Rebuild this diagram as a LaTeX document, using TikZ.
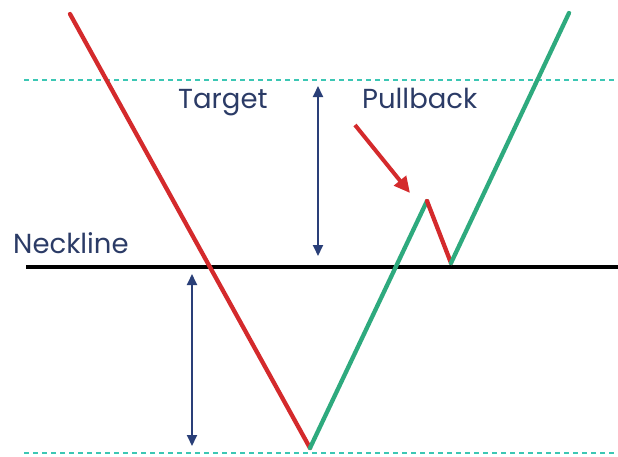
\documentclass[tikz,border=0pt]{standalone}
\usepackage{fontspec}
\setmainfont{Poppins}
\usetikzlibrary{arrows.meta}
\definecolor{redline}{HTML}{D42A2C}
\definecolor{greenline}{HTML}{2EAA7E}
\definecolor{tealdash}{HTML}{3CC7B4}
\definecolor{navy}{HTML}{2A3F78}
\definecolor{labeltext}{HTML}{2B3B66}
\tikzset{
  guide/.style={tealdash, line width=2pt, dash pattern=on 5pt off 4pt},
  neck/.style={black, line width=4.5pt},
  fall/.style={redline, line width=4.3pt, line cap=round, line join=round},
  rise/.style={greenline, line width=4.3pt, line cap=round, line join=round},
  measure/.style={navy, line width=1.8pt, {Triangle[length=11pt,width=10pt]}-{Triangle[length=11pt,width=10pt]}},
  pointer/.style={redline, line width=4pt, -{Triangle[length=16pt,width=15pt]}},
  lbl/.style={text=labeltext, font=\fontsize{27.5}{32}\selectfont, inner sep=0pt, anchor=base west}
}
\begin{document}
\begin{tikzpicture}[x=1pt,y=-1pt]
\useasboundingbox (0,0) rectangle (618,456);
% guide lines
\coordinate (tl) at (24,80);
\coordinate (tr) at (618,80);
\coordinate (bl) at (24,453);
\coordinate (br) at (618,453);
\draw[guide] (tl) -- (tr);
\draw[guide] (bl) -- (br);
% neckline
\coordinate (nl) at (26,267);
\coordinate (nr) at (618,267);
\draw[neck] (nl) -- (nr);
% price path
\coordinate (start) at (70,14);
\coordinate (bottom) at (310,448);
\coordinate (peak) at (427,201);
\coordinate (retest) at (451,263);
\coordinate (finish) at (569,13);
\draw[fall] (start) -- (bottom);
\draw[rise] (bottom) -- (peak);
\draw[fall] (peak) -- (retest);
\draw[rise] (retest) -- (finish);
% measuring arrows
\coordinate (ta) at (318,86);
\coordinate (tb) at (318,256);
\draw[measure] (ta) -- (tb);
\coordinate (la) at (192,274);
\coordinate (lb) at (192,446);
\draw[measure] (la) -- (lb);
% pullback pointer
\coordinate (pa) at (355,125);
\coordinate (pb) at (410,193);
\draw[pointer] (pa) -- (pb);
% labels
\node[lbl] (target) at (178,108) {Target};
\node[lbl] (pullback) at (362,108) {Pullback};
\node[lbl] (neckline) at (13,253) {Neckline};
\end{tikzpicture}
\end{document}
